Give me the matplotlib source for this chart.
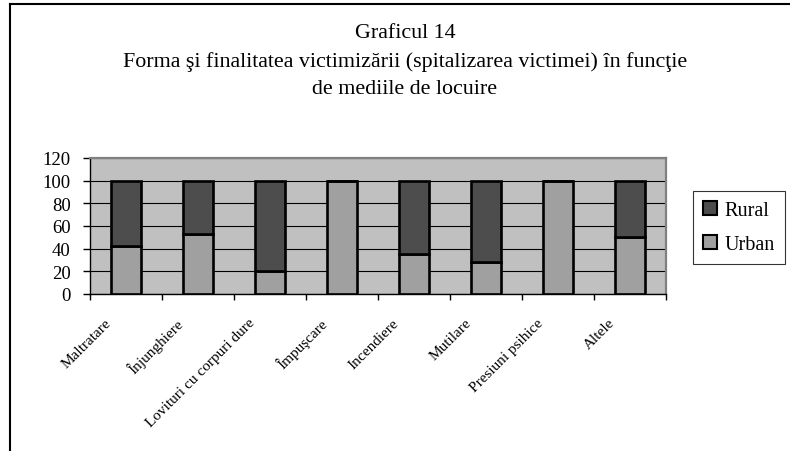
import matplotlib
matplotlib.use("Agg")
import matplotlib.pyplot as plt
import matplotlib.transforms as mtransforms
from matplotlib.lines import Line2D
from matplotlib.patches import Patch
import numpy as np

plt.rcParams["font.family"] = ["Liberation Serif", "DejaVu Serif"]

categories = [
    "Maltratare",
    "Înjunghiere",
    "Lovituri cu corpuri dure",
    "Împuşcare",
    "Incendiere",
    "Mutilare",
    "Presiuni psihice",
    "Altele",
]
urban = [42, 53, 20, 100, 35, 28, 100, 50]
rural = [58, 47, 80, 0, 65, 72, 0, 50]
y_ticks = [0, 20, 40, 60, 80, 100, 120]

title_lines = [
    "Graficul 14",
    "Forma şi finalitatea victimizării (spitalizarea victimei) în funcţie",
    "de mediile de locuire",
]

urban_color = "#a0a0a0"
rural_color = "#4d4d4d"
plot_bg = "#c0c0c0"

fig = plt.figure(figsize=(7.9, 4.52), dpi=100)
ax = fig.add_axes([90 / 790, 1 - 295 / 452, 576 / 790, 136 / 452])
ax.set_facecolor(plot_bg)

x = np.arange(len(categories))
ax.bar(x, urban, width=0.42, color=urban_color, edgecolor="black", linewidth=1.9, zorder=3)
ax.bar(x, rural, width=0.42, bottom=urban, color=rural_color, edgecolor="black",
       linewidth=1.9, zorder=3)

ax.set_xlim(-0.5, len(categories) - 0.5)
ax.set_ylim(0, 120)
ax.set_yticks(y_ticks)
ax.yaxis.grid(True, color="black", linewidth=0.8, zorder=1)
ax.set_axisbelow(True)

# ticks on category boundaries, labels on centres
ax.set_xticks(np.arange(len(categories) + 1) - 0.5)
ax.set_xticklabels([])
ax.set_xticks(x, minor=True)
ax.set_xticklabels(categories, minor=True, rotation=45, ha="right", va="center",
                   rotation_mode="anchor", fontsize=11)
ax.tick_params(axis="x", which="major", direction="out", length=4, width=1, color="black")
ax.tick_params(axis="x", which="minor", length=0, pad=19)
ax.tick_params(axis="y", direction="out", length=5, width=1, pad=9, labelsize=13.5)

shift = mtransforms.ScaledTranslation(-17 / 100, 0, fig.dpi_scale_trans)
for lab in ax.get_xticklabels(minor=True):
    lab.set_transform(lab.get_transform() + shift)

for side in ["top", "right"]:
    ax.spines[side].set_color("#808080")
    ax.spines[side].set_linewidth(1.6)
for side in ["left", "bottom"]:
    ax.spines[side].set_color("black")
    ax.spines[side].set_linewidth(1)

for line, y_px in zip(title_lines, [38, 67, 94]):
    fig.text(405 / 790, 1 - y_px / 452, line, ha="center", va="baseline", fontsize=15.8)

handles = [
    Patch(facecolor=rural_color, edgecolor="black", linewidth=1.5, label="Rural"),
    Patch(facecolor=urban_color, edgecolor="black", linewidth=1.5, label="Urban"),
]
leg = fig.legend(handles=handles, loc="upper left", bbox_to_anchor=(693 / 790, 1 - 192 / 452),
                 fontsize=14.5, frameon=True, fancybox=False, borderpad=0.5,
                 handlelength=0.7, handleheight=0.7, handletextpad=0.35, labelspacing=0.75,
                 borderaxespad=0)
leg.get_frame().set_edgecolor("black")
leg.get_frame().set_linewidth(0.8)

# outer chart frame (left and top edges visible)
fig.add_artist(Line2D([10 / 790, 10 / 790], [0, 1 - 5 / 452], transform=fig.transFigure,
                      color="black", linewidth=1.5))
fig.add_artist(Line2D([10 / 790, 1], [1 - 5 / 452, 1 - 5 / 452], transform=fig.transFigure,
                      color="black", linewidth=1.5))

fig.savefig("out.png", dpi=100)
